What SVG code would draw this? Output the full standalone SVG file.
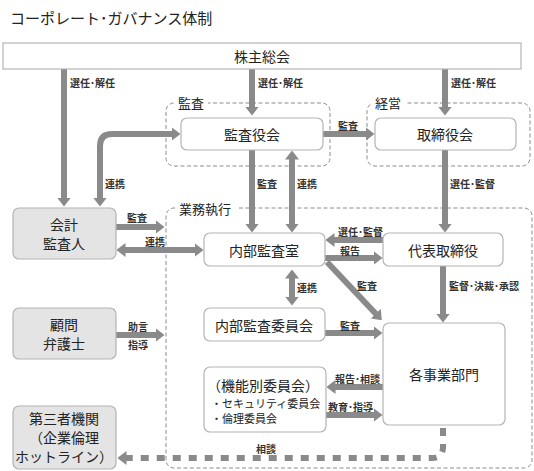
<svg xmlns="http://www.w3.org/2000/svg" width="534" height="471" viewBox="0 0 534 471">
<style>
text{font-family:"Noto Sans CJK JP","Noto Sans",sans-serif;fill:#222}
.title{font-size:15px}
.node{fill:#fff;stroke:#b4b4b4;stroke-width:1.2}
.gnode{fill:#e4e4e4;stroke:#b4b4b4;stroke-width:1.2}
.nt{font-size:14px;text-anchor:middle;dominant-baseline:central}
.grp{fill:none;stroke:#8c8c8c;stroke-width:1;stroke-dasharray:4 2.5}
.gl{font-size:13px;dominant-baseline:central}
.lb{font-size:10px;font-weight:bold;dominant-baseline:central;fill:#333}
.ar{fill:none;stroke:#8a8a8a;stroke-width:6;marker-end:url(#ah)}
.dbl{marker-start:url(#ah)}
.dash{fill:none;stroke:#8a8a8a;stroke-width:6;stroke-dasharray:8 8;marker-end:url(#ah)}
</style>
<defs>
<marker id="ah" markerUnits="userSpaceOnUse" markerWidth="9" markerHeight="14" viewBox="0 0 9 14" refX="0.5" refY="7" orient="auto-start-reverse">
<path d="M0,0 L9,7 L0,14 z" fill="#8a8a8a"/>
</marker>
</defs>
<rect width="534" height="471" fill="#fff"/>
<text class="title" x="10" y="24">コーポレート･ガバナンス体制</text>

<g id="grp-audit">
<rect class="grp" x="166" y="103" width="164" height="63" rx="8"/>
<rect x="174" y="95" width="34" height="16" fill="#fff"/>
<text class="gl" x="178" y="102">監査</text>
</g>
<g id="grp-mgmt">
<rect class="grp" x="367" y="103" width="163" height="63" rx="8"/>
<rect x="372" y="95" width="34" height="16" fill="#fff"/>
<text class="gl" x="375" y="102">経営</text>
</g>
<g id="grp-exec">
<rect class="grp" x="166" y="208" width="366" height="260" rx="8"/>
<rect x="175" y="200" width="63" height="16" fill="#fff"/>
<text class="gl" x="179" y="208">業務執行</text>
</g>

<g id="connectors">
<path class="ar" d="M64,69 L64,198"/>
<path class="ar" d="M252,69 L252,107"/>
<path class="ar" d="M445,69 L445,107"/>
<path class="ar" d="M323,134 L366,134"/>
<path class="ar" d="M445,150 L445,224"/>
<path class="ar" d="M252,150 L252,224"/>
<path class="ar dbl" d="M292,159 L292,224"/>
<path class="ar dbl" d="M100,198 L100,146 Q100,134 112,134 L172,134"/>
<path class="ar" d="M116,227 L156,227"/>
<path class="ar dbl" d="M125,250 L195,250"/>
<path class="ar" d="M383,240 L334,240"/>
<path class="ar" d="M325,258 L374,258"/>
<path class="ar" d="M327,262 L376,314"/>
<path class="ar" d="M443,266 L443,314"/>
<path class="ar dbl" d="M292,278 L292,297"/>
<path class="ar" d="M325,333 L374,333"/>
<path class="ar" d="M383,387 L335,387"/>
<path class="ar" d="M326,415 L374,415"/>
<path class="ar" d="M116,335 L156,335"/>
<path class="dash" d="M443,428 L443,447 Q443,458 432,458 L126,458"/>

<text class="lb" x="70" y="82">選任･解任</text>
<text class="lb" x="258" y="82">選任･解任</text>
<text class="lb" x="451" y="82">選任･解任</text>
<text class="lb" x="105" y="183">連携</text>
<text class="lb" x="338" y="125">監査</text>
<text class="lb" x="257" y="183">監査</text>
<text class="lb" x="297" y="183">連携</text>
<text class="lb" x="450" y="183">選任･監督</text>
<text class="lb" x="127" y="217">監査</text>
<text class="lb" x="145" y="241">連携</text>
<text class="lb" x="338" y="231">選任･監督</text>
<text class="lb" x="340" y="250">報告</text>
<text class="lb" x="357" y="285">監査</text>
<text class="lb" x="297" y="287">連携</text>
<text class="lb" x="449" y="285">監督･決裁･承認</text>
<text class="lb" x="340" y="325">監査</text>
<text class="lb" x="128" y="326">助言</text>
<text class="lb" x="128" y="344">指導</text>
<text class="lb" x="335" y="378">報告･相談</text>
<text class="lb" x="328" y="406">教育･指導</text>
<text class="lb" x="256" y="448">相談</text>
</g>

<g id="n-shareholders">
<rect class="node" x="3" y="43" width="518" height="26"/>
<text class="nt" x="262" y="56">株主総会</text>
</g>
<g id="n-kansayakukai">
<rect class="node" x="181" y="118" width="142" height="32" rx="6"/>
<text class="nt" x="252" y="134">監査役会</text>
</g>
<g id="n-torishimariyakukai">
<rect class="node" x="375" y="118" width="141" height="32" rx="6"/>
<text class="nt" x="445" y="134">取締役会</text>
</g>
<g id="n-auditor">
<rect class="gnode" x="13" y="208" width="103" height="51" rx="6"/>
<text class="nt" x="64" y="224">会計</text>
<text class="nt" x="64" y="243">監査人</text>
</g>
<g id="n-internal-audit">
<rect class="node" x="204" y="233" width="121" height="33" rx="6"/>
<text class="nt" x="264" y="250">内部監査室</text>
</g>
<g id="n-ceo">
<rect class="node" x="383" y="233" width="120" height="33" rx="6"/>
<text class="nt" x="443" y="250">代表取締役</text>
</g>
<g id="n-lawyer">
<rect class="gnode" x="13" y="308" width="103" height="51" rx="6"/>
<text class="nt" x="64" y="324">顧問</text>
<text class="nt" x="64" y="343">弁護士</text>
</g>
<g id="n-audit-committee">
<rect class="node" x="204" y="308" width="121" height="33" rx="6"/>
<text class="nt" x="264" y="325">内部監査委員会</text>
</g>
<g id="n-committees">
<rect class="node" x="204" y="367" width="122" height="65" rx="6"/>
<text x="207" y="385" style="font-size:14px;dominant-baseline:central">（機能別委員会）</text>
<text x="211" y="403" style="font-size:11px;dominant-baseline:central">・セキュリティ委員会</text>
<text x="211" y="418" style="font-size:11px;dominant-baseline:central">・倫理委員会</text>
</g>
<g id="n-divisions">
<rect class="node" x="383" y="323" width="122" height="102" rx="6"/>
<text class="nt" x="444" y="374">各事業部門</text>
</g>
<g id="n-thirdparty">
<rect class="gnode" x="13" y="406" width="103" height="63" rx="6"/>
<text class="nt" x="64" y="418">第三者機関</text>
<text class="nt" x="64" y="437">（企業倫理</text>
<text class="nt" x="64" y="456">ホットライン）</text>
</g>
</svg>
